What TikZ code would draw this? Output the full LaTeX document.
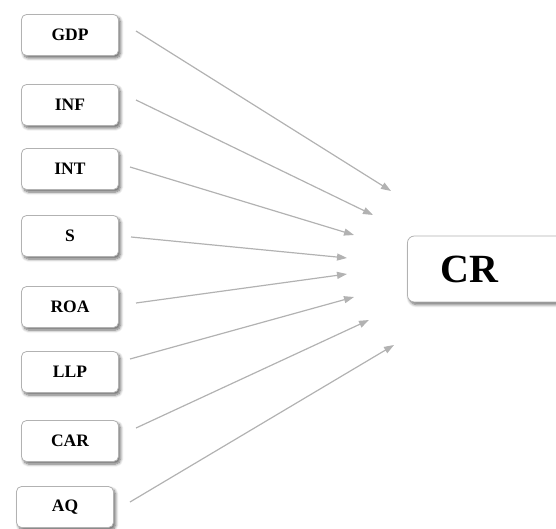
\documentclass[tikz,border=0pt]{standalone}
\usepackage{fontspec}
\setmainfont{Liberation Serif}
\usetikzlibrary{arrows.meta,shadows.blur}
\begin{document}
\begin{tikzpicture}[x=1pt,y=-1pt,
  varbox/.style={draw=gray!60, line width=0.8pt, fill=white, rounded corners=5pt,
    minimum width=97pt, minimum height=41pt, inner sep=0pt,
    font=\fontsize{17.5}{19}\selectfont\bfseries,
    blur shadow={shadow xshift=2pt, shadow yshift=-2.5pt, shadow blur steps=6, shadow blur radius=3pt, shadow opacity=60}},
  bigbox/.style={varbox, minimum width=160pt, minimum height=66pt, rounded corners=7pt,
    font=\fontsize{40}{42}\selectfont\bfseries},
  arr/.style={draw=black!30, line width=1.2pt, -{Triangle[length=10pt,width=7pt]}}]
\useasboundingbox (0,0) rectangle (556,529);
\node[varbox] (GDP) at (70,35) {GDP};
\node[varbox] (INF) at (70,105) {INF};
\node[varbox] (INT) at (70,169) {INT};
\node[varbox] (S) at (70,236) {S};
\node[varbox] (ROA) at (70,307) {ROA};
\node[varbox] (LLP) at (70,372) {LLP};
\node[varbox] (CAR) at (70,441) {CAR};
\node[varbox] (AQ) at (65,507) {AQ};
\node[bigbox, anchor=west] (CR) at (407,269) {CR\hspace*{36pt}};
% free ends of connectors
\coordinate (s1) at (136,31);  \coordinate (e1) at (391,191);
\coordinate (s2) at (136,100); \coordinate (e2) at (373,215);
\coordinate (s3) at (130,167); \coordinate (e3) at (354,235);
\coordinate (s4) at (131,237); \coordinate (e4) at (347,258);
\coordinate (s5) at (136,303); \coordinate (e5) at (347,274);
\coordinate (s6) at (130,359); \coordinate (e6) at (354,297);
\coordinate (s7) at (136,428); \coordinate (e7) at (369,320);
\coordinate (s8) at (130,502); \coordinate (e8) at (394,345);
\foreach \i in {1,...,8} { \draw[arr] (s\i) -- (e\i); }
\end{tikzpicture}
\end{document}
